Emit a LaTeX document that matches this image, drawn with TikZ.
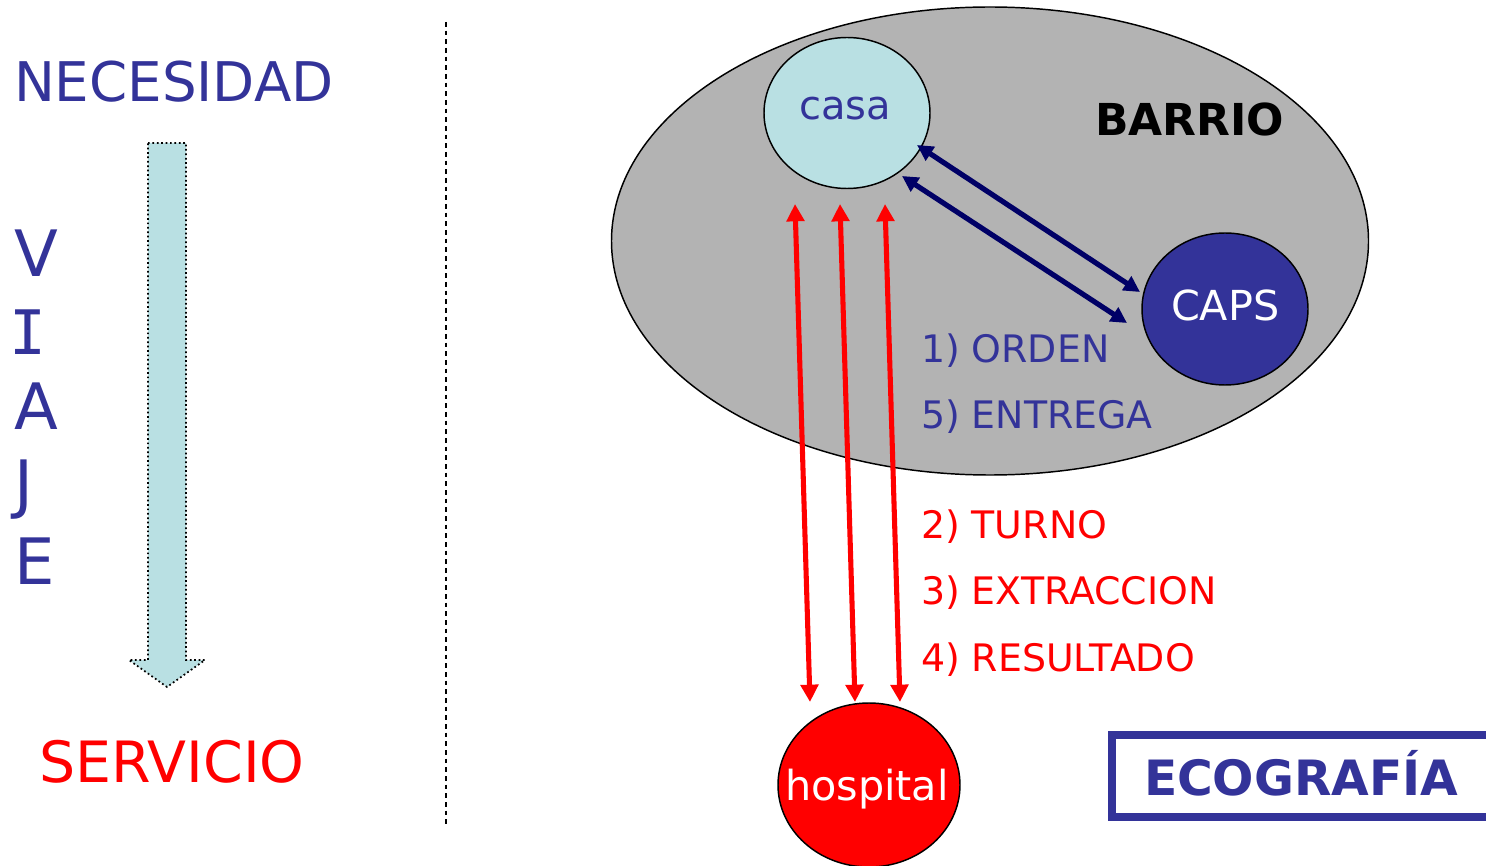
\documentclass[tikz,border=0pt]{standalone}
\usepackage{fontspec}
\setmainfont{DejaVu Sans}
\newfontfamily\serifI{DejaVu Sans Mono}
\usetikzlibrary{arrows.meta}
\definecolor{myblue}{HTML}{333399}
\definecolor{mynavy}{HTML}{000066}
\definecolor{lightcyan}{HTML}{B9E0E3}
\definecolor{barrio}{HTML}{B3B3B3}
\newcommand{\fs}[1]{\fontsize{#1}{#1}\selectfont}
\tikzset{
  px/.style={x=0.75pt,y=-0.75pt},
  lbl/.style={anchor=base west,inner sep=0pt,outer sep=0pt},
  redarrow/.style={draw=red,line width=3.8pt,{Triangle[length=13pt,width=13pt]}-{Triangle[length=13pt,width=13pt]}},
  navyarrow/.style={draw=mynavy,line width=3.9pt,{Triangle[length=12pt,width=12pt]}-{Triangle[length=12pt,width=12pt]}},
  place/.style={draw=black,line width=1.1pt}
}
\begin{document}
\begin{tikzpicture}[px]
\useasboundingbox (0,0) rectangle (1486,866);
% left column
\node[lbl,text=myblue,font=\fs{41}] (nec) at (14,102) {NECESIDAD};
\node[lbl,text=myblue,font=\fs{48}] (v) at (14,277) {V};
\node[lbl,text=myblue,font=\serifI\fs{46}] (i) at (10,354) {I};
\node[lbl,text=myblue,font=\fs{48}] (a) at (14,430) {A};
\node[lbl,text=myblue,font=\fs{48}] (j) at (14,506) {J};
\node[lbl,text=myblue,font=\fs{48}] (e) at (14,584) {E};
\node[lbl,text=red,font=\fs{42.7}] (serv) at (39,782) {SERVICIO};
\draw[fill=lightcyan,draw=black,line width=1.3pt,dotted]
  (148,143) -- (186,143) -- (186,660) -- (205,660) -- (167,687) -- (129,660) -- (148,660) -- cycle;
% separator
\draw[black,line width=1.3pt,dash pattern=on 3.5pt off 3pt] (446,22) -- (446,826);
% barrio
\draw[place,fill=barrio] (990,241) ellipse [x radius=378.5,y radius=234];
\node[lbl,font=\bfseries\fs{33}] (barrio) at (1095,136) {BARRIO};
% casa
\draw[place,fill=lightcyan] (847,113) ellipse [x radius=83,y radius=75.5];
\node[lbl,text=myblue,font=\fs{30}] (casa) at (799,120) {casa};
% CAPS
\draw[place,fill=myblue] (1225,309) ellipse [x radius=83,y radius=76];
\node[lbl,text=white,font=\fs{31}] (caps) at (1171,321) {CAPS};
% hospital
\draw[place,fill=red] (869,785) ellipse [x radius=91,y radius=82];
\node[lbl,text=white,font=\fs{31}] (hosp) at (785,800) {hospital};
% navy arrows
\coordinate (n1a) at (917,145);
\coordinate (n1b) at (1140,292);
\coordinate (n2a) at (902,176);
\coordinate (n2b) at (1127,323);
\draw[navyarrow] (n1a) -- (n1b);
\draw[navyarrow] (n2a) -- (n2b);
% red arrows
\coordinate (r1a) at (795,204);
\coordinate (r1b) at (810,702);
\coordinate (r2a) at (840,204);
\coordinate (r2b) at (855,702);
\coordinate (r3a) at (885,204);
\coordinate (r3b) at (900,702);
\draw[redarrow] (r1a) -- (r1b);
\draw[redarrow] (r2a) -- (r2b);
\draw[redarrow] (r3a) -- (r3b);
% labels
\node[lbl,text=myblue,font=\fs{28.4}] (l1) at (921,363) {1) ORDEN};
\node[lbl,text=myblue,font=\fs{28.4}] (l5) at (921,428) {5) ENTREGA};
\node[lbl,text=red,font=\fs{28.4}] (l2) at (921,538) {2) TURNO};
\node[lbl,text=red,font=\fs{28.4}] (l3) at (921,604) {3) EXTRACCION};
\node[lbl,text=red,font=\fs{28.4}] (l4) at (921,671) {4) RESULTADO};
% ecografia
\draw[draw=myblue,line width=5.5pt] (1112,735) rectangle (1492,817);
\node[lbl,text=myblue,font=\bfseries\fs{36.5}] (eco) at (1144,795) {ECOGRAFÍA};
\end{tikzpicture}
\end{document}
